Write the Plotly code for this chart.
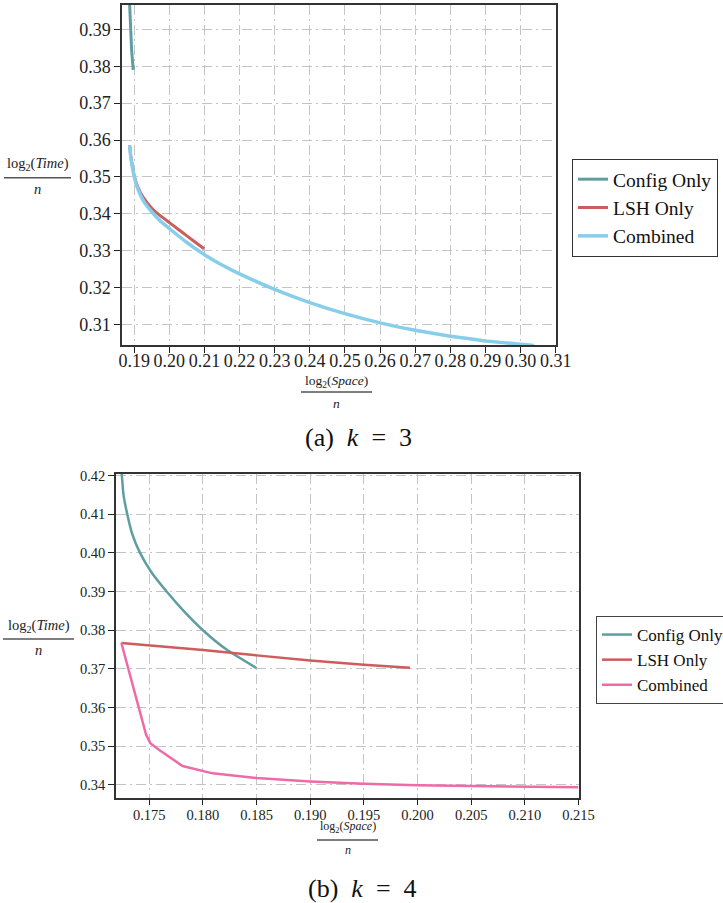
import plotly.graph_objects as go

# ---------- data: k = 3 ----------
k3_config_x = [0.18868, 0.18897, 0.18926, 0.18971]
k3_config_y = [0.3970, 0.3889, 0.3844, 0.3790]

k3_lsh_x = [0.18868, 0.1890, 0.1895, 0.1900, 0.1910, 0.1925, 0.1950, 0.1975, 0.2000,
            0.2025, 0.2050, 0.2075, 0.2099]
k3_lsh_y = [0.3586, 0.3558, 0.3528, 0.3503, 0.3473, 0.3445, 0.3415, 0.3394, 0.3376,
            0.3358, 0.3340, 0.3322, 0.3305]

k3_comb_x = [0.18868, 0.1890, 0.1895, 0.1900, 0.1910, 0.1925, 0.1950, 0.1975, 0.2000,
             0.2050, 0.2100, 0.2150, 0.2200, 0.2300, 0.2400, 0.2500, 0.2600, 0.2700,
             0.2800, 0.2900, 0.3000, 0.3038]
k3_comb_y = [0.3586, 0.3555, 0.3525, 0.3500, 0.3468, 0.3437, 0.3405, 0.3380, 0.3360,
             0.3322, 0.3289, 0.3261, 0.3237, 0.3195, 0.3159, 0.3129, 0.3104, 0.3084,
             0.3068, 0.3055, 0.3046, 0.3043]

# ---------- data: k = 4 ----------
k4_config_x = [0.17242, 0.17260, 0.17295, 0.17340, 0.17414, 0.17520, 0.17662, 0.17820,
               0.18000, 0.18220, 0.18500]
k4_config_y = [0.4210, 0.4150, 0.4100, 0.4050, 0.4000, 0.3950, 0.3900, 0.3850,
               0.3800, 0.3750, 0.3702]

k4_lsh_x = [0.1724, 0.1750, 0.1800, 0.1850, 0.1900, 0.1950, 0.1985, 0.1993]
k4_lsh_y = [0.3767, 0.3761, 0.3749, 0.3735, 0.3722, 0.3711, 0.3703, 0.3703]

k4_comb_x = [0.1724, 0.1747, 0.1751, 0.1759, 0.1781, 0.1800, 0.1809, 0.1850, 0.1900,
             0.1950, 0.2000, 0.2050, 0.2100, 0.2150]
k4_comb_y = [0.3767, 0.3530, 0.3508, 0.3491, 0.3449, 0.3437, 0.3430, 0.3418, 0.3409,
             0.3403, 0.3399, 0.3397, 0.3396, 0.3394]

series_names = ["Config Only", "LSH Only", "Combined"]
NB = "\u00a0"
captions = ["(a)" + NB * 2 + "<i>k</i>" + NB * 2 + "=" + NB + " 3",
            "(b)" + NB * 2 + "<i>k</i>" + NB * 2 + "=" + NB + " 4"]

teal = "#5f9ea0"
red = "#cd5c5c"
sky = "#87ceeb"
pink = "#ef6aa8"
SERIF = "Liberation Serif, Times New Roman, Times, serif"

W, H = 723, 903

fig = go.Figure()

# top plot
fig.add_trace(go.Scatter(x=k3_config_x, y=k3_config_y, mode="lines", name=series_names[0],
                         line=dict(color=teal, width=3), xaxis="x", yaxis="y", legend="legend"))
fig.add_trace(go.Scatter(x=k3_lsh_x, y=k3_lsh_y, mode="lines", name=series_names[1],
                         line=dict(color=red, width=3, shape="spline", smoothing=0.4),
                         xaxis="x", yaxis="y", legend="legend"))
fig.add_trace(go.Scatter(x=k3_comb_x, y=k3_comb_y, mode="lines", name=series_names[2],
                         line=dict(color=sky, width=3.5, shape="spline", smoothing=0.4),
                         xaxis="x", yaxis="y", legend="legend"))

# bottom plot
fig.add_trace(go.Scatter(x=k4_config_x, y=k4_config_y, mode="lines", name=series_names[0],
                         line=dict(color=teal, width=2.5, shape="spline", smoothing=0.5),
                         xaxis="x2", yaxis="y2", legend="legend2"))
fig.add_trace(go.Scatter(x=k4_lsh_x, y=k4_lsh_y, mode="lines", name=series_names[1],
                         line=dict(color=red, width=2.5), xaxis="x2", yaxis="y2", legend="legend2"))
fig.add_trace(go.Scatter(x=k4_comb_x, y=k4_comb_y, mode="lines", name=series_names[2],
                         line=dict(color=pink, width=2.5), xaxis="x2", yaxis="y2", legend="legend2"))

grid = dict(showgrid=True, gridcolor="#c4c4c4", gridwidth=1, griddash="10px,4px,2px,4px",
            zeroline=False, showline=True, linecolor="#333333", linewidth=1.5, mirror=True,
            ticks="outside", ticklen=6, tickcolor="#222222", tickwidth=1)

top_font = dict(family=SERIF, size=18, color="#222222")
bot_font = dict(family=SERIF, size=14.5, color="#222222")

px = lambda v: v / W
py = lambda v: 1 - v / H

fig.update_layout(
    width=W, height=H, autosize=False,
    margin=dict(l=0, r=0, t=0, b=0, autoexpand=False),
    paper_bgcolor="white", plot_bgcolor="white",
    font=dict(family=SERIF, color="#222222"),
    xaxis=dict(domain=[px(122), px(556)], range=[0.18652, 0.3101], anchor="y",
               tickmode="array", tickvals=[0.19 + 0.01 * i for i in range(13)],
               tickformat=".2f", tickfont=top_font, ticklabelstandoff=-7, **grid),
    yaxis=dict(domain=[py(345), py(4.7)], range=[0.3044, 0.3967], anchor="x",
               tickmode="array", tickvals=[0.31 + 0.01 * i for i in range(9)],
               tickformat=".2f", tickfont=top_font, **grid),
    xaxis2=dict(domain=[px(116), px(578.5)], range=[0.1719, 0.2150], anchor="y2",
                tickmode="array", tickvals=[0.175 + 0.005 * i for i in range(9)],
                tickformat=".3f", tickfont=bot_font, ticklabelstandoff=-3, **grid),
    yaxis2=dict(domain=[py(797.7), py(474)], range=[0.3367, 0.4204], anchor="x2",
                tickmode="array", tickvals=[0.34 + 0.01 * i for i in range(9)],
                tickformat=".2f", tickfont=bot_font, **grid),
    legend=dict(x=px(572), y=py(159), xanchor="left", yanchor="top",
                bordercolor="#333333", borderwidth=1, bgcolor="white",
                font=dict(family=SERIF, size=19.5, color="#111111"),
                tracegroupgap=0, itemwidth=30),
    legend2=dict(x=px(596), y=py(616), xanchor="left", yanchor="top",
                 bordercolor="#444444", borderwidth=1, bgcolor="white",
                 font=dict(family=SERIF, size=17, color="#111111"),
                 tracegroupgap=0, itemwidth=30),
    showlegend=True,
)

ann = []
shapes = []


def fraction(cx, y_num, y_line, y_den, x0, x1, size, word):
    ann.append(dict(x=px(cx), y=py(y_num), xref="paper", yref="paper", showarrow=False,
                    text="log<sub>2</sub>(<i>%s</i>)" % word, xanchor="center", yanchor="middle",
                    font=dict(family=SERIF, size=size, color="#222222")))
    ann.append(dict(x=px(cx), y=py(y_den), xref="paper", yref="paper", showarrow=False,
                    text="<i>n</i>", xanchor="center", yanchor="middle",
                    font=dict(family=SERIF, size=size, color="#222222")))
    shapes.append(dict(type="line", xref="paper", yref="paper", x0=px(x0), x1=px(x1),
                       y0=py(y_line), y1=py(y_line), line=dict(color="#555555", width=1.5)))


# top plot titles
fraction(37.5, 164, 177.7, 189, 4, 71, 14.5, "Time")
fraction(336.5, 381, 392, 403, 301, 372, 13.5, "Space")
# bottom plot titles
fraction(38.5, 626, 639, 650, 3, 74, 14.5, "Time")
fraction(347.5, 827, 840, 850, 317, 378, 12, "Space")

ann.append(dict(x=px(358.5), y=py(437), xref="paper", yref="paper", showarrow=False,
                text=captions[0], xanchor="center", yanchor="middle",
                font=dict(family=SERIF, size=26, color="#111111")))
ann.append(dict(x=px(362.5), y=py(888), xref="paper", yref="paper", showarrow=False,
                text=captions[1], xanchor="center", yanchor="middle",
                font=dict(family=SERIF, size=26, color="#111111")))

fig.update_layout(annotations=ann, shapes=shapes)

post = ("document.body.style.margin='0px';"
        "document.body.style.overflow='hidden';"
        "document.documentElement.style.overflow='hidden';")

fig.write_html("out.html", config={"displayModeBar": False}, post_script=post)
